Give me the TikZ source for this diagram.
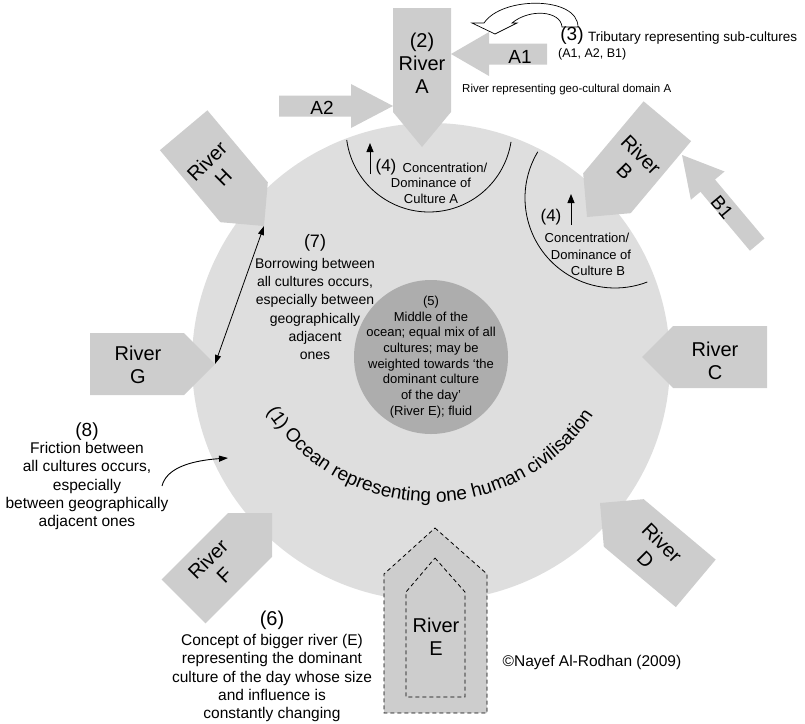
\documentclass[tikz,border=0pt]{standalone}
\usepackage{fontspec}
\setmainfont{Liberation Sans}
\usetikzlibrary{arrows.meta,decorations.text}
\definecolor{oceancol}{RGB}{222,222,222}
\definecolor{rivercol}{RGB}{205,205,205}
\definecolor{midcol}{RGB}{173,173,173}
\newcommand\fsriver{\fontsize{20}{23}\selectfont}
\newcommand\fstrib{\fontsize{19}{22}\selectfont}
\newcommand\fsnumb{\fontsize{18}{21}\selectfont}
\newcommand\fsbig{\fontsize{15.5}{18.2}\selectfont}
\newcommand\fsmidd{\fontsize{14}{18.2}\selectfont}
\newcommand\fssmall{\fontsize{13}{15.7}\selectfont}
\newcommand\fsgeo{\fontsize{11.5}{14}\selectfont}
\newcommand\fsabc{\fontsize{12.5}{15}\selectfont}
\newcommand\oceanfont{\fontsize{19}{22}\selectfont}
\tikzset{
  riverpic/.pic={\fill[rivercol] (0,0) -- (-31,31) -- (-125,31) -- (-125,-31) -- (-31,-31) -- cycle;},
  rlabel/.style={font=\fsriver, align=center, inner sep=0pt},
  tlabel/.style={font=\fstrib, inner sep=0pt},
  txt/.style={inner sep=0pt, align=center},
  thinline/.style={line width=0.8pt},
  uparrow/.style={line width=0.9pt, -{Triangle[width=7pt,length=9pt]}},
  dashline/.style={line width=0.8pt, dash pattern=on 4pt off 3pt}
}
\begin{document}
\begin{tikzpicture}[x=1pt,y=-1pt]
\useasboundingbox (0,0) rectangle (805,723);
% ocean
\fill[oceancol] (431,362) circle[radius=239];
% rivers
\pic[rotate=-130] at (587,217) {riverpic};
\pic[rotate=180] at (642,357) {riverpic};
\pic[rotate=140] at (600,503) {riverpic};
\pic[rotate=45] at (272,513) {riverpic};
\pic at (215,364) {riverpic};
\pic[rotate=-50] at (264,226) {riverpic};
\fill[rivercol] (393,8) -- (451,8) -- (451,112) -- (422,147) -- (393,112) -- cycle;
% tributaries
\fill[rivercol] (451,54) -- (489,32) -- (489,43.5) -- (547,43.5) -- (547,64.5) -- (489,64.5) -- (489,76) -- cycle;
\fill[rivercol] (393,106) -- (351,84) -- (351,95.5) -- (279,95.5) -- (279,116.5) -- (351,116.5) -- (351,128) -- cycle;
\begin{scope}[shift={(682,155)}, rotate=130]
\fill[rivercol] (0,0) -- (-40,22) -- (-40,9.5) -- (-117,9.5) -- (-117,-9.5) -- (-40,-9.5) -- (-40,-22) -- cycle;
\end{scope}
% river E
\filldraw[fill=rivercol, draw=black, dashline] (435,528) -- (487,574) -- (487,713) -- (384,713) -- (384,574) -- cycle;
\draw[dashline] (435,558) -- (465,592) -- (465,697) -- (406,697) -- (406,592) -- cycle;
% middle
\fill[midcol] (431,357) circle[radius=77];
% arcs (4)
\draw[thinline] (429,129) ++(172.4:83) arc[start angle=172.4, end angle=8.9, radius=83];
\draw[thinline] (615,198) ++(210.9:90) arc[start angle=210.9, end angle=69, radius=90];
% coordinates
\coordinate (Htip) at (264,226);
\coordinate (Gtip) at (215,364);
\coordinate (aA0) at (370,174);
\coordinate (aA1) at (370,143);
\coordinate (aB0) at (571,225);
\coordinate (aB1) at (571,194);
\coordinate (fr0) at (162,486);
\coordinate (fr1) at (228,458);
\draw[uparrow] (aA0) -- (aA1);
\draw[uparrow] (aB0) -- (aB1);
\draw[line width=0.8pt, {Triangle[width=6pt,length=9pt]}-{Triangle[width=6pt,length=9pt]}] (Htip) -- (Gtip);
\draw[line width=0.9pt, -{Triangle[width=6pt,length=9pt]}] (fr0) .. controls (166,470) and (186,461) .. (fr1);
% curved hollow arrow (3)
\filldraw[fill=white, draw=black, line width=0.7pt] (562,27) .. controls (561,11) and (530,8) .. (512,23) -- (517,23) -- (495,34) -- (472,23) -- (484,23) .. controls (502,-4) and (578,-4) .. (578,27) -- cycle;
% ocean text
\path[decorate, decoration={text along path, text align=center, text={|\oceanfont|(1) Ocean representing one human civilisation}}] (431,307) ++(151:195) arc[start angle=151, end angle=30, radius=195];
% river labels
\node[rlabel] (labA) at (422,63) {(2)\\River\\A};
\node[rlabel, rotate=-45] (labB) at (633,163) {River\\B};
\node[rlabel] (labC) at (715,361) {River\\C};
\node[rlabel, rotate=-45] (labD) at (654,551) {River\\D};
\node[rlabel] (labE) at (436,637) {River\\E};
\node[rlabel, rotate=45] (labF) at (216,567) {River\\F};
\node[rlabel] (labG) at (138,365) {River\\G};
\node[rlabel, rotate=45] (labH) at (215,169) {River\\H};
\node[tlabel] (labA1) at (520,57) {A1};
\node[tlabel] (labA2) at (322,108) {A2};
\node[tlabel, rotate=-50] (labB1) at (722,207) {B1};
% (3)
\node[txt, font=\fstrib] (n3) at (572,36) {(3)};
\node[txt, font=\fontsize{13.5}{16}\selectfont, anchor=west] (trib) at (588,38) {Tributary representing sub-cultures};
\node[txt, font=\fsabc, anchor=west] (abc) at (558,54) {(A1, A2, B1)};
\node[txt, font=\fsgeo, anchor=west] (geo) at (462,90) {River representing geo-cultural domain A};
% (4) A
\node[txt, font=\fontsize{17}{20}\selectfont] (n4a) at (386,167) {(4)};
\node[txt, font=\fssmall] (conA) at (445,168) {Concentration/};
\node[txt, font=\fssmall] (domA) at (431,191) {Dominance of\\Culture A};
% (4) B
\node[txt, font=\fontsize{17}{20}\selectfont] (n4b) at (551,217) {(4)};
\node[txt, font=\fssmall] (conB) at (587,238) {Concentration/};
\node[txt, font=\fssmall] (domB) at (591,255) {Dominance of};
\node[txt, font=\fssmall] (culB) at (598,271) {Culture B};
% (5)
\node[txt, font=\fssmall] (mid) at (431,357) {(5)\\Middle of the\\ocean; equal mix of all\\cultures; may be\\weighted towards ‘the\\dominant culture\\of the day’\\(River E); fluid};
% (7)
\node[txt, font=\fsnumb] (n7) at (315,243) {(7)};
\node[txt, font=\fsmidd] (borrow) at (315,309) {Borrowing between\\all cultures occurs,\\especially between\\geographically\\adjacent\\ones};
% (8)
\node[txt, font=\fontsize{19}{22}\selectfont] (n8) at (87,432) {(8)};
\node[txt, font=\fsbig] (fric) at (87,486) {Friction between\\all cultures occurs,\\especially\\between geographically\\adjacent ones};
% (6)
\node[txt, font=\fontsize{20}{23}\selectfont] (n6) at (272,620) {(6)};
\node[txt, font=\fsbig] (concept) at (272,678) {Concept of bigger river (E)\\representing the dominant\\culture of the day whose size\\and influence is\\constantly changing};
% copyright
\node[txt, font=\fsbig] (copy) at (592,662) {©Nayef Al-Rodhan (2009)};
\end{tikzpicture}
\end{document}
